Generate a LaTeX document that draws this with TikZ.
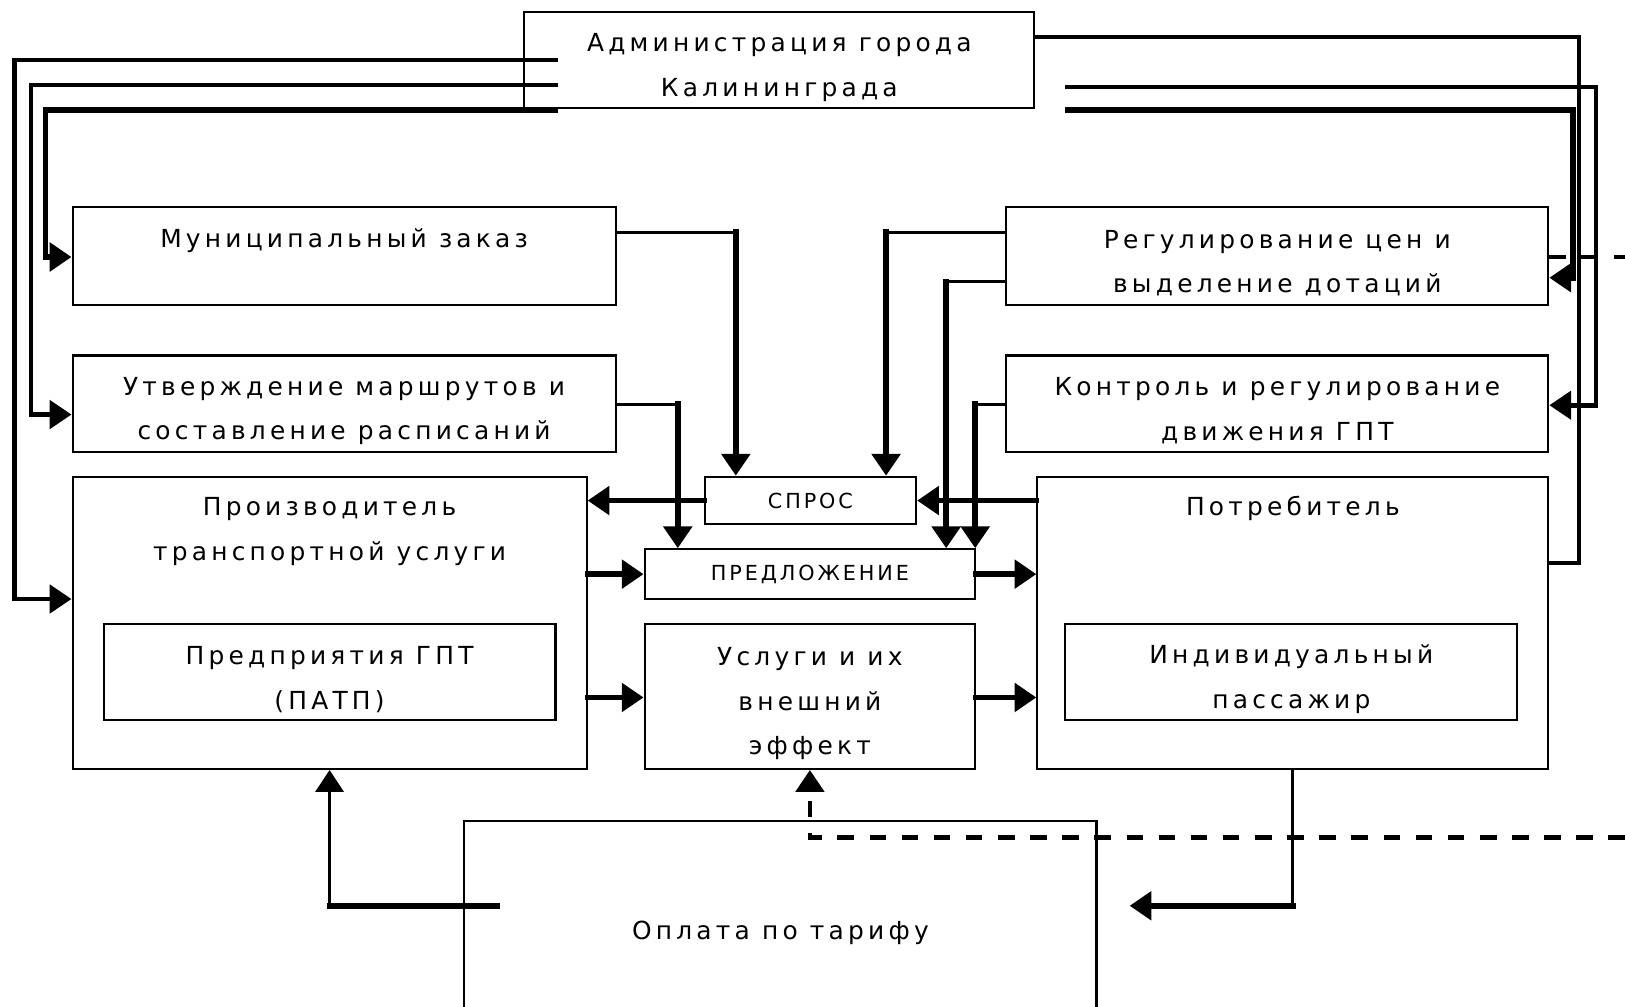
\documentclass[tikz,border=0pt]{standalone}
\usepackage{fontspec}
\setmainfont{DejaVu Sans}[LetterSpace=17]
\newfontfamily\spacedfont{DejaVu Sans}[LetterSpace=14]
\usetikzlibrary{arrows.meta,positioning,calc}

\tikzset{
  box/.style={draw, line width=2pt, inner sep=0pt, align=center, font=\fontsize{24}{43}\selectfont},
  smallbox/.style={box, font=\spacedfont\fontsize{20}{22}\selectfont},
  lbl/.style={inner sep=0pt, align=center, font=\fontsize{24}{43}\selectfont},
  txt/.style={label={[lbl,anchor=center,yshift=-7pt]center:{#1}}},
  wire/.style={line width=2.8pt},
  pipe/.style={line width=5.5pt, line cap=rect},
  arr/.style={-{Triangle[length=21pt,width=27pt]}},
  dsh/.style={line width=4.5pt, dash pattern=on 16pt off 15pt},
}

\begin{document}
\begin{tikzpicture}[x=1pt, y=-1pt]
\useasboundingbox (0,0) rectangle (1568,971);

% boxes
\node[box, minimum width=492pt, minimum height=92pt, txt={Администрация города\\Калининграда}] (admin) at (752,58) {};
\node[box, minimum width=524pt, minimum height=94pt,
      label={[lbl,anchor=center,yshift=-33pt]north:Муниципальный заказ}] (mun) at (332,247) {};
\node[box, minimum width=524pt, minimum height=93pt, txt={Утверждение маршрутов и\\составление расписаний}] (utv) at (332,389.5) {};
\node[box, minimum width=523pt, minimum height=94pt, txt={Регулирование цен и\\выделение дотаций}] (reg) at (1232.5,247) {};
\node[box, minimum width=523pt, minimum height=93pt, txt={Контроль и регулирование\\движения ГПТ}] (kontr) at (1232.5,389.5) {};
\node[box, minimum width=496pt, minimum height=282pt,
      label={[lbl,anchor=center,yshift=-54pt]north:Производитель\\транспортной услуги}] (prod) at (318,601) {};
\node[box, minimum width=436pt, minimum height=93pt, txt={Предприятия ГПТ\\(ПАТП)}] (patp) at (318,648.5) {};
\node[smallbox, minimum width=204pt, minimum height=46pt] (spros) at (782,483) {СПРОС};
\node[smallbox, minimum width=319pt, minimum height=48pt] (pred) at (781.5,554) {ПРЕДЛОЖЕНИЕ};
\node[box, minimum width=319pt, minimum height=140pt, txt={Услуги и их\\внешний\\эффект}] (usl) at (781.5,672) {};
\node[box, minimum width=493pt, minimum height=282pt,
      label={[lbl,anchor=center,yshift=-32pt]north:Потребитель}] (potr) at (1247.5,601) {};
\node[box, minimum width=436pt, minimum height=93pt, txt={Индивидуальный\\пассажир}] (pass) at (1246,648.5) {};
\node[box, minimum width=610pt, minimum height=216pt] (opl) at (753,900) {Оплата по тарифу};

% administration to the left column
\coordinate (a1) at (538,58);
\coordinate (a2) at (538,82);
\coordinate (a3) at (538,106);
\draw[line width=4.5pt, arr] (a1) -- (14,58) |- (prod.west |- 0,578);
\draw[line width=4.5pt, arr] (a2) -- (30,82) |- (utv.west |- 0,400);
\draw[line width=5.5pt, arr] (a3) -- (44,106) |- (mun.west |- 0,248);

% administration to the right column
\draw[line width=4pt] (admin.east |- 0,36) -- (1524,36) |- (potr.east |- 0,543);
\coordinate (b2) at (1028,84);
\coordinate (b3) at (1028,106);
\draw[line width=4.5pt, arr] (b2) -- (1540,84) |- (kontr.east |- 0,391);
\draw[line width=5.5pt, arr] (b3) -- (1518,106) |- (reg.east |- 0,268);

% dashed links
\coordinate (e1) at (1568,248);
\draw[dsh] (reg.east |- e1) -- (e1);
\coordinate (e2) at (1568,808);
\draw[dsh, arr] (e2) -| (usl.south);

% into demand and supply
\coordinate (c1) at (710,224);
\draw[wire] (mun.east |- c1) -- (c1);
\draw[pipe, arr] (c1) -- (spros.north -| c1);
\coordinate (c2) at (654,390);
\draw[wire] (utv.east |- c2) -- (c2);
\draw[pipe, arr] (c2) -- (pred.north -| c2);
\coordinate (c3) at (855,224);
\draw[wire] (reg.west |- c3) -- (c3);
\draw[pipe, arr] (c3) -- (spros.north -| c3);
\coordinate (c4) at (913,272);
\draw[wire] (reg.west |- c4) -- (c4);
\draw[pipe, arr] (c4) -- (pred.north -| c4);
\coordinate (c5) at (941,390);
\draw[wire] (kontr.west |- c5) -- (c5);
\draw[pipe, arr] (c5) -- (pred.north -| c5);

% market flows
\draw[pipe, arr] (spros.west) -- (prod.east |- spros.west);
\draw[pipe, arr] (potr.west |- spros.east) -- (spros.east);
\draw[pipe, arr] (prod.east |- pred.west) -- (pred.west);
\draw[pipe, arr] (pred.east) -- (potr.west |- pred.east);
\draw[pipe, arr] (prod.east |- 0,673) -- (usl.west |- 0,673);
\draw[pipe, arr] (usl.east |- 0,673) -- (potr.west |- 0,673);

% payment
\coordinate (p1) at (1247.5,874);
\coordinate (p2) at (1090,874);
\draw[wire] (potr.south) -- (p1);
\draw[pipe, arr] (p1) -- (p2);
\coordinate (p3) at (480,874);
\coordinate (p4) at (318,874);
\draw[pipe] (p3) -- (p4);
\draw[wire, arr] (p4) -- (prod.south);

\end{tikzpicture}
\end{document}
